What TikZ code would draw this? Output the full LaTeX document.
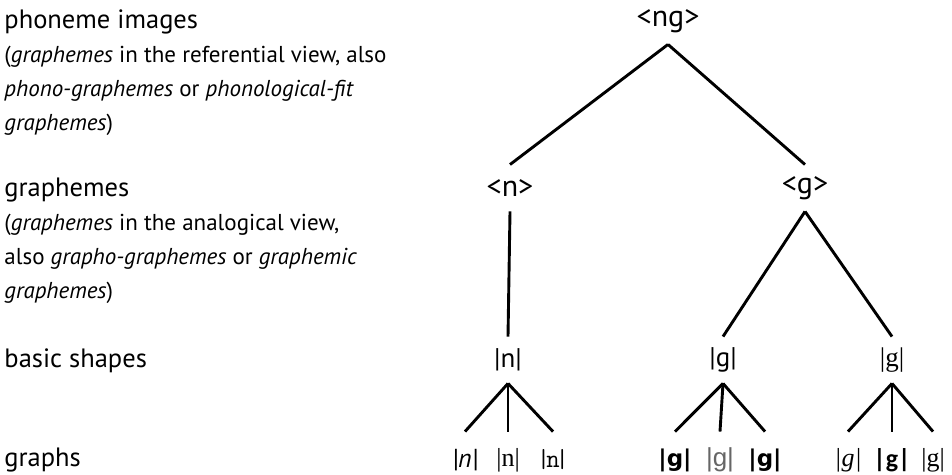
\documentclass[tikz,border=0pt]{standalone}
\usepackage{fontspec}
\setsansfont{PT Sans}
\newfontfamily\libserif{Liberation Serif}
\newfontfamily\libsans{Liberation Sans}
\newfontfamily\dejavu{DejaVu Sans}
\newfontfamily\carlito{Carlito}
\begin{document}
\begin{tikzpicture}[x=1pt,y=-1pt,
  font=\sffamily\fontsize{23}{34}\selectfont,
  line width=2.9pt,
  lbl/.style={anchor=base west, inner sep=0},
  head/.style={lbl, font=\sffamily\fontsize{26.5}{34}\selectfont},
  tn/.style={inner sep=0, minimum height=44pt, minimum width=20pt, font=\sffamily\fontsize{27}{30}\selectfont},
  an/.style={tn, font=\sffamily\fontsize{30}{32}\selectfont},
  lf/.style={inner sep=0, minimum height=54pt, minimum width=20pt, font=\sffamily\fontsize{26}{30}\selectfont}]
\useasboundingbox (0,0) rectangle (952,474);
% left labels
\node[head] (ph1) at (3,28) {phoneme images};
\node[lbl] (ph2) at (3,62) {(\textit{graphemes} in the referential view, also};
\node[lbl] (ph3) at (3,96) {\textit{phono-graphemes} or \textit{phonological-fit}};
\node[lbl] (ph4) at (3,130) {\textit{graphemes})};
\node[head] (gr1) at (3,196) {graphemes};
\node[lbl] (gr2) at (3,230) {(\textit{graphemes} in the analogical view,};
\node[lbl] (gr3) at (3,264) {also \textit{grapho-graphemes} or \textit{graphemic}};
\node[lbl] (gr4) at (3,298) {\textit{graphemes})};
\node[head] (bs) at (3,367) {basic shapes};
\node[head] (gp) at (3,466) {graphs};
% tree
\node[an] (ng) at (668,21) {<ng>};
\node[an] (n) at (510,188) {<n>};
\node[an] (g) at (805,188) {<g>};
\node[tn] (bn) at (508,360) {|n|};
\node[tn] (bg1) at (723,360) {|g|};
\node[tn] (bg2) at (892,360) {{\libserif |g|}};
\node[lf] (l1) at (465,460) {\textit{|n|}};
\node[lf] (l2) at (508,460) {{\libserif |n|}};
\node[lf] (l3) at (553,460) {{\ttfamily |\kern-4pt n\kern-4pt|}};
\node[lf] (l4) at (675,460) {{\dejavu\bfseries\fontsize{23}{30}\selectfont |g|}};
\node[lf] (l5) at (720,460) {{\libsans\color{black!60}|g|}};
\node[lf] (l6) at (765,460) {{\dejavu\bfseries\fontsize{23}{30}\selectfont |g|}};
\node[lf] (l7) at (848,460) {{\libserif\itshape |g|}};
\node[lf] (l8) at (892,460) {{\carlito\bfseries |g|}};
\node[lf] (l9) at (933,460) {{\libserif |g|}};
\draw (ng.south) -- (n.north);
\draw (ng.south) -- (g.north);
\draw (n.south) -- (bn.north);
\draw (g.south) -- (bg1.north);
\draw (g.south) -- (bg2.north);
\foreach \c in {l1,l2,l3} \draw (bn.south) -- (\c.north);
\foreach \c in {l4,l5,l6} \draw (bg1.south) -- (\c.north);
\foreach \c in {l7,l8,l9} \draw (bg2.south) -- (\c.north);
\end{tikzpicture}
\end{document}
